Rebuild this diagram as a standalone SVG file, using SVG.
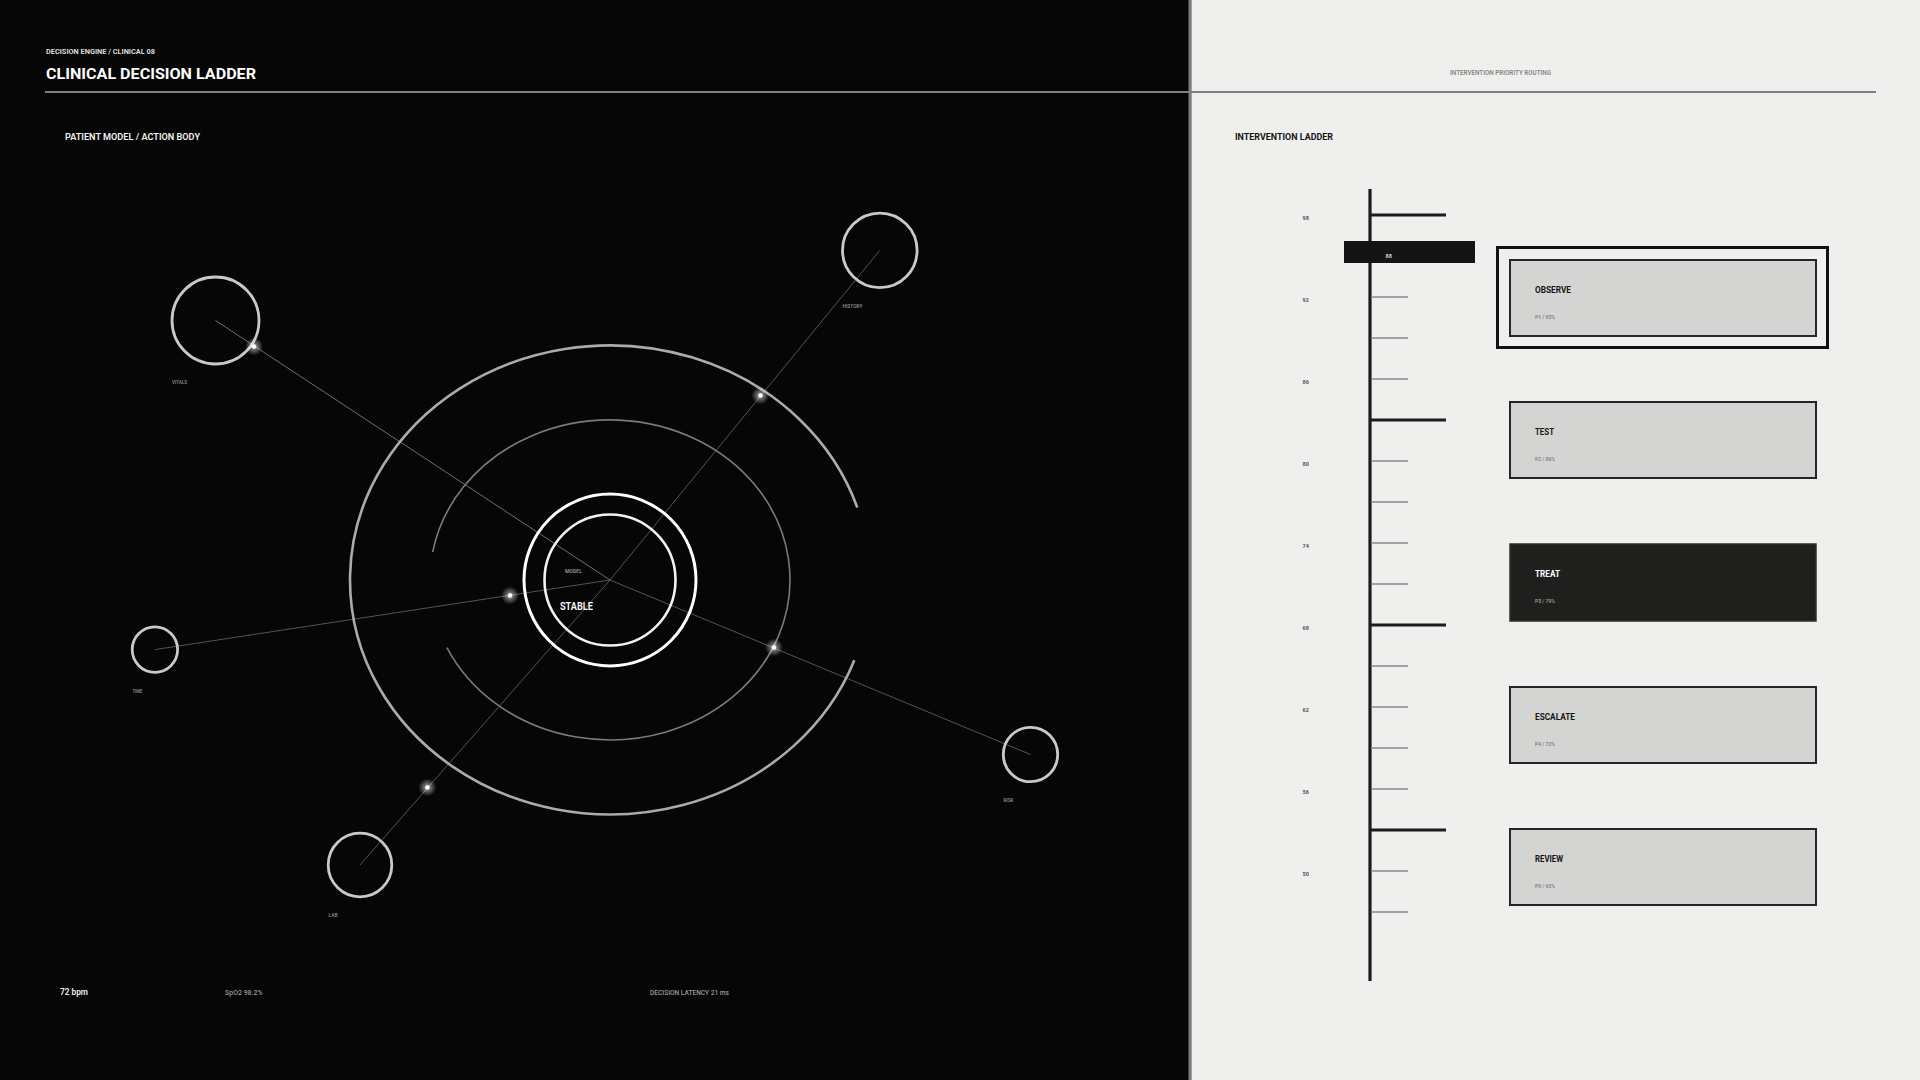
<svg xmlns="http://www.w3.org/2000/svg" width="1920" height="1080" viewBox="0 0 1920 1080">
<defs>
<style>
text{font-family:Roboto,"Liberation Sans",Arial,sans-serif;}
.b{font-weight:700;}
.sb{font-weight:600;}
.spoke{stroke:#5c5c5c;stroke-width:0.9;fill:none;}
.node{fill:none;stroke:#c9c9c9;stroke-width:2.8;}
.nlabel{font-size:5.5px;fill:#8a8a8a;font-weight:600;}
.minor{stroke:#8a8a8a;stroke-width:1.6;}
.major{stroke:#1c1c1c;stroke-width:3.2;}
.scale{font-size:5.5px;fill:#555;font-weight:700;}
.card{fill:#d4d5d2;stroke:#262626;stroke-width:2;}
.ctitle{font-size:9.5px;font-weight:700;fill:#151515;}
.csub{font-size:5.5px;fill:#808080;font-weight:600;}
</style>
<radialGradient id="glow" cx="0.5" cy="0.5" r="0.5">
<stop offset="0" stop-color="#ffffff" stop-opacity="0.95"/>
<stop offset="0.3" stop-color="#ffffff" stop-opacity="0.45"/>
<stop offset="1" stop-color="#ffffff" stop-opacity="0"/>
</radialGradient>
</defs>

<!-- backgrounds -->
<rect x="0" y="0" width="1190" height="1080" fill="#050605"/>
<rect x="1190" y="0" width="730" height="1080" fill="#eff0ed"/>
<rect x="1188.5" y="0" width="3.2" height="1080" fill="#7c7c7c"/>

<!-- header -->
<g id="header">
<text x="46" y="53.5" class="b" font-size="8" fill="#dcdcdc" textLength="109" lengthAdjust="spacingAndGlyphs">DECISION ENGINE / CLINICAL 08</text>
<text x="46" y="79" class="b" font-size="15.5" fill="#ffffff" textLength="210" lengthAdjust="spacingAndGlyphs">CLINICAL DECISION LADDER</text>
<line x1="45" y1="92" x2="1876" y2="92" stroke="#808080" stroke-width="2"/>
<text x="1450" y="74.7" class="sb" font-size="6.5" fill="#858585" textLength="101" lengthAdjust="spacingAndGlyphs">INTERVENTION PRIORITY ROUTING</text>
<text x="65" y="140" class="sb" font-size="9.5" fill="#f2f2f2" textLength="135" lengthAdjust="spacingAndGlyphs">PATIENT MODEL / ACTION BODY</text>
<text x="1235" y="140" class="b" font-size="9.5" fill="#151515" textLength="98" lengthAdjust="spacingAndGlyphs">INTERVENTION LADDER</text>
</g>

<!-- connectors -->
<g id="connectors">
<line class="spoke" x1="215.5" y1="320.5" x2="610" y2="580" style="stroke:#7a7a7a"/>
<line class="spoke" x1="879.8" y1="250.4" x2="610" y2="580"/>
<line class="spoke" x1="154.9" y1="649.6" x2="610" y2="580"/>
<line class="spoke" x1="360" y1="865" x2="610" y2="580"/>
<line class="spoke" x1="1030.5" y1="754.5" x2="610" y2="580"/>
</g>

<!-- rings -->
<g id="orbits">
<path d="M854.3,660.2 A260,234.5 0 1 1 857.3,507.5" fill="none" stroke="#ababab" stroke-width="2.6"/>
<path d="M432.7,552.2 A180,160 0 1 1 446.9,647.6" fill="none" stroke="#7a7a7a" stroke-width="1.6"/>
</g>

<g id="node-core">
<circle cx="610" cy="580" r="86" fill="none" stroke="#ffffff" stroke-width="3"/>
<circle cx="610" cy="580" r="65.5" fill="none" stroke="#f2f2f2" stroke-width="2.6"/>
<text x="565" y="572.5" font-size="5.5" fill="#9a9a9a" font-weight="600" textLength="17" lengthAdjust="spacingAndGlyphs">MODEL</text>
<text x="560" y="609.5" class="sb" font-size="11" fill="#ffffff" textLength="33" lengthAdjust="spacingAndGlyphs">STABLE</text>
</g>

<g id="node-vitals">
<circle class="node" cx="215.5" cy="320.5" r="43.5"/>
<text class="nlabel" x="172" y="384" textLength="15" lengthAdjust="spacingAndGlyphs">VITALS</text>
</g>
<g id="node-history">
<circle class="node" cx="879.8" cy="250.4" r="37.3"/>
<text class="nlabel" x="842.5" y="307.5" textLength="20" lengthAdjust="spacingAndGlyphs">HISTORY</text>
</g>
<g id="node-time">
<circle class="node" cx="154.9" cy="649.6" r="22.7"/>
<text class="nlabel" x="132.5" y="693" textLength="10" lengthAdjust="spacingAndGlyphs">TIME</text>
</g>
<g id="node-lab">
<circle class="node" cx="360" cy="865" r="31.8"/>
<text class="nlabel" x="328.5" y="916.5" textLength="9" lengthAdjust="spacingAndGlyphs">LAB</text>
</g>
<g id="node-risk">
<circle class="node" cx="1030.5" cy="754.5" r="27.2"/>
<text class="nlabel" x="1003.5" y="801.7" textLength="10" lengthAdjust="spacingAndGlyphs">RISK</text>
</g>

<!-- glow points -->
<g id="pulses">
<circle cx="254" cy="346.5" r="9" fill="url(#glow)"/><circle cx="254" cy="346.5" r="2.2" fill="#fff"/>
<circle cx="760.4" cy="395.5" r="9" fill="url(#glow)"/><circle cx="760.4" cy="395.5" r="2.2" fill="#fff"/>
<circle cx="510" cy="595.5" r="9" fill="url(#glow)"/><circle cx="510" cy="595.5" r="2.2" fill="#fff"/>
<circle cx="427.4" cy="787.4" r="9" fill="url(#glow)"/><circle cx="427.4" cy="787.4" r="2.2" fill="#fff"/>
<circle cx="774" cy="647.5" r="9" fill="url(#glow)"/><circle cx="774" cy="647.5" r="2.2" fill="#fff"/>
</g>

<!-- bottom readouts -->
<g id="readouts">
<text x="60" y="995" class="sb" font-size="9.5" fill="#f0f0f0" textLength="28" lengthAdjust="spacingAndGlyphs">72 bpm</text>
<text x="225" y="995" font-size="6.5" fill="#9a9a9a" font-weight="500" textLength="37.6" lengthAdjust="spacingAndGlyphs">SpO2  98.2%</text>
<text x="650" y="995" font-size="6.5" fill="#9a9a9a" font-weight="500" textLength="79" lengthAdjust="spacingAndGlyphs">DECISION LATENCY  21 ms</text>
</g>

<!-- ladder -->
<g id="ladder">
<line x1="1370" y1="189" x2="1370" y2="981" stroke="#1c1c1c" stroke-width="3.2"/>
<line class="major" x1="1370" y1="215" x2="1446" y2="215"/>
<line class="major" x1="1370" y1="420" x2="1446" y2="420"/>
<line class="major" x1="1370" y1="625" x2="1446" y2="625"/>
<line class="major" x1="1370" y1="830" x2="1446" y2="830"/>
<g class="minor">
<line x1="1371" y1="297" x2="1408" y2="297"/>
<line x1="1371" y1="338" x2="1408" y2="338"/>
<line x1="1371" y1="379" x2="1408" y2="379"/>
<line x1="1371" y1="461" x2="1408" y2="461"/>
<line x1="1371" y1="502" x2="1408" y2="502"/>
<line x1="1371" y1="543" x2="1408" y2="543"/>
<line x1="1371" y1="584" x2="1408" y2="584"/>
<line x1="1371" y1="666" x2="1408" y2="666"/>
<line x1="1371" y1="707" x2="1408" y2="707"/>
<line x1="1371" y1="748" x2="1408" y2="748"/>
<line x1="1371" y1="789" x2="1408" y2="789"/>
<line x1="1371" y1="871" x2="1408" y2="871"/>
<line x1="1371" y1="912" x2="1408" y2="912"/>
</g>
<text class="scale" x="1302.5" y="219.5">98</text>
<text class="scale" x="1302.5" y="301.5">92</text>
<text class="scale" x="1302.5" y="383.5">86</text>
<text class="scale" x="1302.5" y="465.5">80</text>
<text class="scale" x="1302.5" y="547.5">74</text>
<text class="scale" x="1302.5" y="629.5">68</text>
<text class="scale" x="1302.5" y="711.5">62</text>
<text class="scale" x="1302.5" y="793.5">56</text>
<text class="scale" x="1302.5" y="875.5">50</text>
</g>
<g id="marker">
<rect x="1344" y="241" width="131" height="22" fill="#131413"/>
<text x="1385.5" y="257.5" font-size="5.5" font-weight="700" fill="#d8d8d8">88</text>
</g>

<!-- cards -->
<g id="card-observe">
<rect x="1497.5" y="247.5" width="330" height="100" fill="none" stroke="#111" stroke-width="3"/>
<rect class="card" x="1510" y="260" width="306" height="76"/>
<text class="ctitle" x="1535" y="293" textLength="36" lengthAdjust="spacingAndGlyphs">OBSERVE</text>
<text class="csub" x="1535" y="319" textLength="20" lengthAdjust="spacingAndGlyphs">P1 / 93%</text>
</g>
<g id="card-test">
<rect class="card" x="1510" y="402" width="306" height="76"/>
<text class="ctitle" x="1535" y="435" textLength="19" lengthAdjust="spacingAndGlyphs">TEST</text>
<text class="csub" x="1535" y="461" textLength="20" lengthAdjust="spacingAndGlyphs">P2 / 86%</text>
</g>
<g id="card-treat">
<rect x="1510" y="544" width="306" height="77" fill="#1f201e" stroke="#2e2f2d" stroke-width="1.5"/>
<text class="ctitle" x="1535" y="577" style="fill:#ffffff" textLength="25" lengthAdjust="spacingAndGlyphs">TREAT</text>
<text class="csub" x="1535" y="603" style="fill:#9a9a9a" textLength="20" lengthAdjust="spacingAndGlyphs">P3 / 79%</text>
</g>
<g id="card-escalate">
<rect class="card" x="1510" y="687" width="306" height="76"/>
<text class="ctitle" x="1535" y="720" textLength="40" lengthAdjust="spacingAndGlyphs">ESCALATE</text>
<text class="csub" x="1535" y="746" textLength="20" lengthAdjust="spacingAndGlyphs">P4 / 72%</text>
</g>
<g id="card-review">
<rect class="card" x="1510" y="829" width="306" height="76"/>
<text class="ctitle" x="1535" y="862" textLength="28" lengthAdjust="spacingAndGlyphs">REVIEW</text>
<text class="csub" x="1535" y="888" textLength="20" lengthAdjust="spacingAndGlyphs">P5 / 65%</text>
</g>
</svg>
